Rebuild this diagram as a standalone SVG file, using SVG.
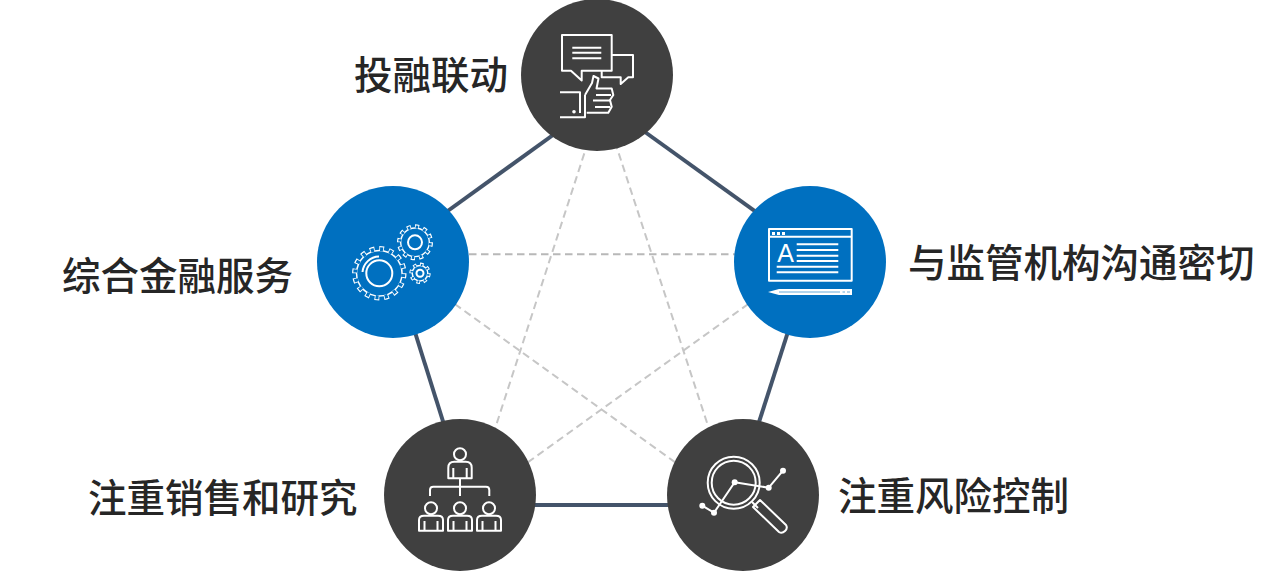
<svg xmlns="http://www.w3.org/2000/svg" width="1280" height="572" viewBox="0 0 1280 572">
<style>
.solid{stroke:#44546a;stroke-width:4;fill:none}
.dash{stroke:#c6c6c6;stroke-width:2;stroke-dasharray:7.500 4.500;fill:none}
.dark{fill:#404040}
.blue{fill:#0070c0}
.ic{fill:none;stroke:#fff;stroke-width:2;stroke-linejoin:round}
.lb{font-family:"Noto Sans CJK SC","Noto Sans",sans-serif;font-size:38.5px;font-weight:500;fill:#262626;dominant-baseline:central}
.w{fill:#fff}
</style>
<rect width="1280" height="572" fill="#fff"/>
<g id="connectors">
<path class="dash" style="stroke:#b8b8b8" d="M469 254.300H735"/>
<path class="dash" d="M588 142L492 438"/>
<path class="dash" d="M615 142L712 438"/>
<path class="dash" d="M445 297L690 473"/>
<path class="dash" d="M758 297L513 473"/>
<path class="solid" d="M562 128.500L438 218"/>
<path class="solid" d="M638 127L765 218.500"/>
<path class="solid" d="M795 310L750 450"/>
<path class="solid" d="M408 310L452 450"/>
<path class="solid" d="M480 505H720"/>
</g>
<g id="node-top">
<circle class="dark" cx="597" cy="75" r="76"/>
<g class="ic">
<path d="M562 35H611.700V70.700H581.700V80.500L571 70.700H562Z"/>
<path d="M612 55H633V77.300H628.300L620.700 84V77.300H601.700V71"/>
<path d="M572.300 47.700H601.300M572.300 52.700H601.300M572.300 58.300H601.300"/>
<path d="M560 92.300H580V113M560 117.300H585V95M585 95L592 83L593.500 76L598.500 78.500L596.500 88.500H611.700L613.300 95L610 100L611.700 106.700L608.300 112.700H586.700"/>
<path d="M596 95H611M593 100.500H610M595 107H610"/>
</g>
<circle class="w" cx="574" cy="111.700" r="1.800"/>
<text class="lb" x="354" y="72">投融联动</text>
</g>
<g id="node-left">
<circle class="blue" cx="393" cy="262" r="76"/>
<g>
<circle cx="415" cy="242.300" r="16.500" fill="none" stroke="#fff" stroke-width="3" pathLength="24" stroke-dasharray="1 1"/>
<circle cx="415" cy="242.300" r="15" fill="#fff"/>
<circle cx="415" cy="242.300" r="15.300" fill="none" stroke="#0070c0" stroke-width="3" pathLength="24" stroke-dasharray="0.6 1.4" stroke-dashoffset="-0.2"/>
<circle cx="415" cy="242.300" r="13.600" fill="#0070c0"/>
<circle cx="415" cy="242.300" r="7" class="ic"/>
<circle cx="379.300" cy="273.300" r="25.200" fill="none" stroke="#fff" stroke-width="4" pathLength="32" stroke-dasharray="1 1"/>
<circle cx="379.300" cy="273.300" r="23.500" fill="#fff"/>
<circle cx="379.300" cy="273.300" r="24" fill="none" stroke="#0070c0" stroke-width="4" pathLength="32" stroke-dasharray="0.65 1.35" stroke-dashoffset="-0.175"/>
<circle cx="379.300" cy="273.300" r="22" fill="#0070c0"/>
<circle cx="379.300" cy="273.300" r="13" class="ic"/>
<path class="ic" d="M362.500 272A17 17 0 0 1 379 256.500"/>
<circle cx="420" cy="273.300" r="9.500" fill="none" stroke="#fff" stroke-width="2.400" pathLength="16" stroke-dasharray="1 1"/>
<circle cx="420" cy="273.300" r="8.500" fill="#fff"/>
<circle cx="420" cy="273.300" r="8.500" fill="none" stroke="#0070c0" stroke-width="2.400" pathLength="16" stroke-dasharray="0.5 1.5" stroke-dashoffset="-0.25"/>
<circle cx="420" cy="273.300" r="7" fill="#0070c0"/>
<circle cx="420" cy="273.300" r="3.500" class="ic"/>
</g>
<text class="lb" x="62" y="273">综合金融服务</text>
</g>
<g id="node-right">
<circle class="blue" cx="810" cy="262" r="76"/>
<rect class="ic" x="769" y="229" width="82.700" height="51.700"/>
<path class="ic" d="M769 236.700H851.700"/>
<rect class="w" x="772" y="232" width="3" height="3"/>
<rect class="w" x="777" y="232" width="3" height="3"/>
<rect class="w" x="782" y="232" width="3" height="3"/>
<text x="785.500" y="262" text-anchor="middle" font-family="Liberation Sans, sans-serif" font-size="25" fill="#fff">A</text>
<path class="ic" d="M796.700 244.300H838.300M796.700 250H838.300M796.700 255.700H838.300M796.700 261H838.300M776.700 266.700H838.300M776.700 272.300H838.300"/>
<path class="w" d="M768 292L779 289H852V295H779Z"/>
<path fill="#0070c0" d="M779 291H840V293H779ZM842.500 291H845V293H842.500ZM847 291H850V293H847Z" opacity="0.3"/>
<text class="lb" x="908" y="260">与监管机构沟通密切</text>
</g>
<g id="node-bottom-left">
<circle class="dark" cx="460" cy="495" r="76"/>
<g class="ic">
<circle cx="460" cy="454.300" r="6"/>
<path d="M448.300 478.300V467.700Q448.300 461.700 454.300 461.700H465.700Q471.700 461.700 471.700 467.700V478.300Z"/>
<path d="M453.300 468V478M466.700 468V478M460 478V496M430 496V490Q430 486.700 433.300 486.700H486Q489.300 486.700 489.300 490V496"/>
<circle cx="431" cy="508.300" r="6"/>
<circle cx="460" cy="508.300" r="6"/>
<circle cx="489" cy="508.300" r="6"/>
<path d="M419 530.700V520Q419 515.700 424 515.700H438Q443 515.700 443 520V530.700Z"/>
<path d="M448 530.700V520Q448 515.700 453 515.700H467Q472 515.700 472 520V530.700Z"/>
<path d="M477 530.700V520Q477 515.700 482 515.700H496Q501 515.700 501 520V530.700Z"/>
<path d="M424.500 521V530M437.500 521V530M453.500 521V530M466.500 521V530M482.500 521V530M495.500 521V530"/>
</g>
<text class="lb" x="88" y="495">注重销售和研究</text>
</g>
<g id="node-bottom-right">
<circle class="dark" cx="743" cy="495" r="76"/>
<g class="ic">
<circle cx="733.700" cy="482.700" r="26"/>
<circle cx="733.700" cy="482.700" r="22"/>
<path d="M702.300 505.700L714 512.700L734.700 482.300L768.700 487.700L783 470.700"/>
<path d="M752 502L758 508"/>
<path d="M753 507L760 500L786 525Q788 528 785 531Q782 534 779 532Z"/>
</g>
<g class="w">
<circle cx="702.300" cy="505.700" r="3"/>
<circle cx="714" cy="512.700" r="3"/>
<circle cx="734.700" cy="482.300" r="3"/>
<circle cx="768.700" cy="487.700" r="3"/>
<circle cx="783" cy="470.700" r="3"/>
</g>
<text class="lb" x="838" y="493">注重风险控制</text>
</g>
</svg>
